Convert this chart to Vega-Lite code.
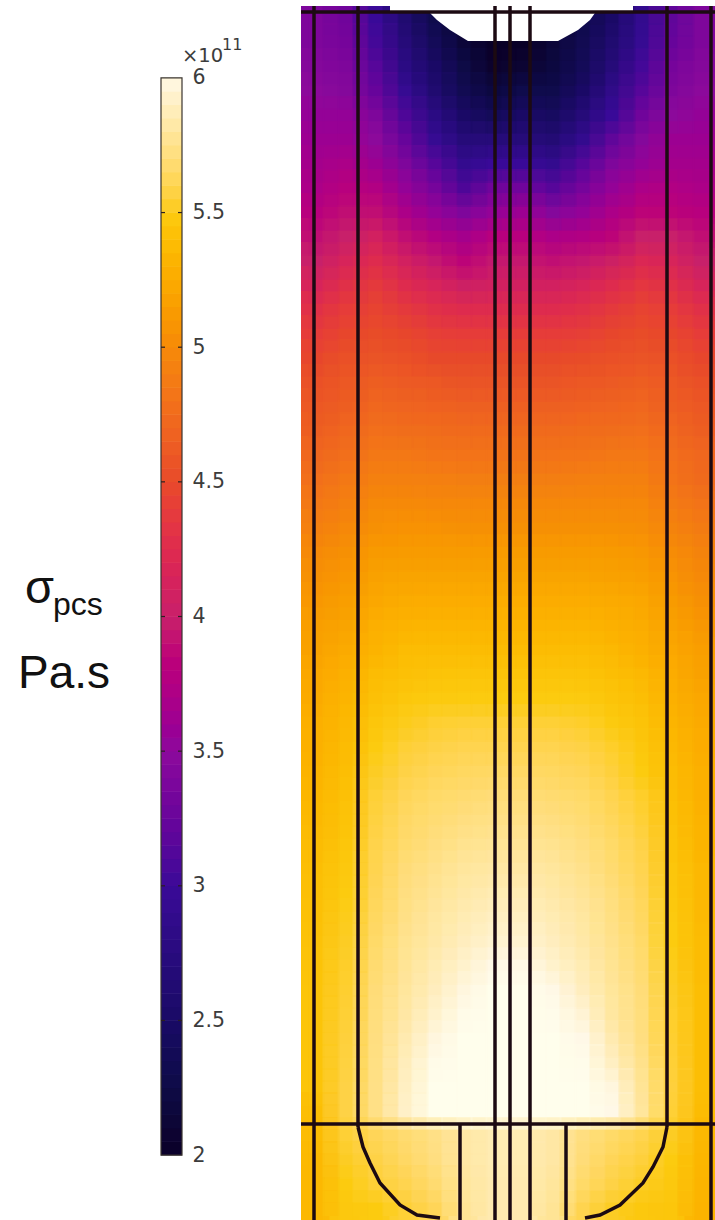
{"$schema":"https://vega.github.io/schema/vega-lite/v6.json","background":"white","padding":{"left":0,"top":6,"right":0,"bottom":0},"bounds":"flush","spacing":119,"datasets":{"cells":[
{"x":316,"y":18,"v":3.4},{"x":345,"y":18,"v":3.3},{"x":375,"y":18,"v":3.0},{"x":405,"y":18,"v":2.6},{"x":434,"y":18,"v":2.3},{"x":464,"y":18,"v":2.1},{"x":493,"y":18,"v":2.0},{"x":523,"y":18,"v":2.0},{"x":553,"y":18,"v":2.1},{"x":582,"y":18,"v":2.3},{"x":612,"y":18,"v":2.5},{"x":641,"y":18,"v":2.9},{"x":671,"y":18,"v":3.2},{"x":700,"y":18,"v":3.4},
{"x":316,"y":42,"v":3.4},{"x":345,"y":42,"v":3.35},{"x":375,"y":42,"v":3.05},{"x":405,"y":42,"v":2.7},{"x":434,"y":42,"v":2.4},{"x":464,"y":42,"v":2.15},{"x":493,"y":42,"v":2.0},{"x":523,"y":42,"v":2.0},{"x":553,"y":42,"v":2.15},{"x":582,"y":42,"v":2.35},{"x":612,"y":42,"v":2.6},{"x":641,"y":42,"v":2.95},{"x":671,"y":42,"v":3.25},{"x":700,"y":42,"v":3.4},
{"x":316,"y":67,"v":3.45},{"x":345,"y":67,"v":3.4},{"x":375,"y":67,"v":3.15},{"x":405,"y":67,"v":2.8},{"x":434,"y":67,"v":2.5},{"x":464,"y":67,"v":2.25},{"x":493,"y":67,"v":2.05},{"x":523,"y":67,"v":2.1},{"x":553,"y":67,"v":2.2},{"x":582,"y":67,"v":2.4},{"x":612,"y":67,"v":2.7},{"x":641,"y":67,"v":3.05},{"x":671,"y":67,"v":3.35},{"x":700,"y":67,"v":3.45},
{"x":316,"y":91,"v":3.5},{"x":345,"y":91,"v":3.45},{"x":375,"y":91,"v":3.25},{"x":405,"y":91,"v":2.95},{"x":434,"y":91,"v":2.6},{"x":464,"y":91,"v":2.35},{"x":493,"y":91,"v":2.2},{"x":523,"y":91,"v":2.3},{"x":553,"y":91,"v":2.3},{"x":582,"y":91,"v":2.5},{"x":612,"y":91,"v":2.85},{"x":641,"y":91,"v":3.15},{"x":671,"y":91,"v":3.4},{"x":700,"y":91,"v":3.5},
{"x":316,"y":115,"v":3.55},{"x":345,"y":115,"v":3.55},{"x":375,"y":115,"v":3.4},{"x":405,"y":115,"v":3.1},{"x":434,"y":115,"v":2.8},{"x":464,"y":115,"v":2.5},{"x":493,"y":115,"v":2.4},{"x":523,"y":115,"v":2.5},{"x":553,"y":115,"v":2.45},{"x":582,"y":115,"v":2.7},{"x":612,"y":115,"v":3.0},{"x":641,"y":115,"v":3.3},{"x":671,"y":115,"v":3.5},{"x":700,"y":115,"v":3.55},
{"x":316,"y":140,"v":3.6},{"x":345,"y":140,"v":3.6},{"x":375,"y":140,"v":3.5},{"x":405,"y":140,"v":3.25},{"x":434,"y":140,"v":2.95},{"x":464,"y":140,"v":2.7},{"x":493,"y":140,"v":2.7},{"x":523,"y":140,"v":2.7},{"x":553,"y":140,"v":2.65},{"x":582,"y":140,"v":2.9},{"x":612,"y":140,"v":3.2},{"x":641,"y":140,"v":3.45},{"x":671,"y":140,"v":3.6},{"x":700,"y":140,"v":3.6},
{"x":316,"y":164,"v":3.65},{"x":345,"y":164,"v":3.7},{"x":375,"y":164,"v":3.6},{"x":405,"y":164,"v":3.4},{"x":434,"y":164,"v":3.15},{"x":464,"y":164,"v":2.9},{"x":493,"y":164,"v":3.0},{"x":523,"y":164,"v":3.0},{"x":553,"y":164,"v":2.9},{"x":582,"y":164,"v":3.15},{"x":612,"y":164,"v":3.4},{"x":641,"y":164,"v":3.55},{"x":671,"y":164,"v":3.65},{"x":700,"y":164,"v":3.65},
{"x":316,"y":188,"v":3.7},{"x":345,"y":188,"v":3.8},{"x":375,"y":188,"v":3.75},{"x":405,"y":188,"v":3.55},{"x":434,"y":188,"v":3.35},{"x":464,"y":188,"v":3.1},{"x":493,"y":188,"v":3.3},{"x":523,"y":188,"v":3.3},{"x":553,"y":188,"v":3.15},{"x":582,"y":188,"v":3.35},{"x":612,"y":188,"v":3.55},{"x":641,"y":188,"v":3.7},{"x":671,"y":188,"v":3.75},{"x":700,"y":188,"v":3.7},
{"x":316,"y":212,"v":3.8},{"x":345,"y":212,"v":3.9},{"x":375,"y":212,"v":3.9},{"x":405,"y":212,"v":3.7},{"x":434,"y":212,"v":3.55},{"x":464,"y":212,"v":3.4},{"x":493,"y":212,"v":3.55},{"x":523,"y":212,"v":3.6},{"x":553,"y":212,"v":3.45},{"x":582,"y":212,"v":3.55},{"x":612,"y":212,"v":3.7},{"x":641,"y":212,"v":3.85},{"x":671,"y":212,"v":3.85},{"x":700,"y":212,"v":3.8},
{"x":316,"y":237,"v":3.9},{"x":345,"y":237,"v":4.0},{"x":375,"y":237,"v":4.1},{"x":405,"y":237,"v":3.9},{"x":434,"y":237,"v":3.75},{"x":464,"y":237,"v":3.65},{"x":493,"y":237,"v":3.8},{"x":523,"y":237,"v":3.8},{"x":553,"y":237,"v":3.7},{"x":582,"y":237,"v":3.75},{"x":612,"y":237,"v":3.85},{"x":641,"y":237,"v":4.0},{"x":671,"y":237,"v":4.0},{"x":700,"y":237,"v":3.9},
{"x":316,"y":261,"v":4.0},{"x":345,"y":261,"v":4.15},{"x":375,"y":261,"v":4.25},{"x":405,"y":261,"v":4.1},{"x":434,"y":261,"v":3.95},{"x":464,"y":261,"v":3.85},{"x":493,"y":261,"v":3.95},{"x":523,"y":261,"v":3.95},{"x":553,"y":261,"v":3.9},{"x":582,"y":261,"v":3.95},{"x":612,"y":261,"v":4.05},{"x":641,"y":261,"v":4.2},{"x":671,"y":261,"v":4.15},{"x":700,"y":261,"v":4.0},
{"x":316,"y":285,"v":4.15},{"x":345,"y":285,"v":4.3},{"x":375,"y":285,"v":4.38},{"x":405,"y":285,"v":4.25},{"x":434,"y":285,"v":4.15},{"x":464,"y":285,"v":4.05},{"x":493,"y":285,"v":4.1},{"x":523,"y":285,"v":4.1},{"x":553,"y":285,"v":4.1},{"x":582,"y":285,"v":4.15},{"x":612,"y":285,"v":4.25},{"x":641,"y":285,"v":4.35},{"x":671,"y":285,"v":4.3},{"x":700,"y":285,"v":4.15},
{"x":316,"y":310,"v":4.3},{"x":345,"y":310,"v":4.4},{"x":375,"y":310,"v":4.45},{"x":405,"y":310,"v":4.38},{"x":434,"y":310,"v":4.3},{"x":464,"y":310,"v":4.25},{"x":493,"y":310,"v":4.25},{"x":523,"y":310,"v":4.25},{"x":553,"y":310,"v":4.25},{"x":582,"y":310,"v":4.3},{"x":612,"y":310,"v":4.38},{"x":641,"y":310,"v":4.45},{"x":671,"y":310,"v":4.4},{"x":700,"y":310,"v":4.3},
{"x":316,"y":334,"v":4.4},{"x":345,"y":334,"v":4.48},{"x":375,"y":334,"v":4.52},{"x":405,"y":334,"v":4.48},{"x":434,"y":334,"v":4.42},{"x":464,"y":334,"v":4.4},{"x":493,"y":334,"v":4.4},{"x":523,"y":334,"v":4.4},{"x":553,"y":334,"v":4.4},{"x":582,"y":334,"v":4.42},{"x":612,"y":334,"v":4.48},{"x":641,"y":334,"v":4.52},{"x":671,"y":334,"v":4.48},{"x":700,"y":334,"v":4.4},
{"x":316,"y":358,"v":4.48},{"x":345,"y":358,"v":4.55},{"x":375,"y":358,"v":4.58},{"x":405,"y":358,"v":4.55},{"x":434,"y":358,"v":4.5},{"x":464,"y":358,"v":4.5},{"x":493,"y":358,"v":4.5},{"x":523,"y":358,"v":4.5},{"x":553,"y":358,"v":4.5},{"x":582,"y":358,"v":4.52},{"x":612,"y":358,"v":4.55},{"x":641,"y":358,"v":4.58},{"x":671,"y":358,"v":4.55},{"x":700,"y":358,"v":4.48},
{"x":316,"y":383,"v":4.55},{"x":345,"y":383,"v":4.6},{"x":375,"y":383,"v":4.65},{"x":405,"y":383,"v":4.62},{"x":434,"y":383,"v":4.6},{"x":464,"y":383,"v":4.58},{"x":493,"y":383,"v":4.58},{"x":523,"y":383,"v":4.58},{"x":553,"y":383,"v":4.58},{"x":582,"y":383,"v":4.6},{"x":612,"y":383,"v":4.62},{"x":641,"y":383,"v":4.65},{"x":671,"y":383,"v":4.6},{"x":700,"y":383,"v":4.55},
{"x":316,"y":407,"v":4.6},{"x":345,"y":407,"v":4.65},{"x":375,"y":407,"v":4.72},{"x":405,"y":407,"v":4.7},{"x":434,"y":407,"v":4.68},{"x":464,"y":407,"v":4.66},{"x":493,"y":407,"v":4.66},{"x":523,"y":407,"v":4.66},{"x":553,"y":407,"v":4.66},{"x":582,"y":407,"v":4.68},{"x":612,"y":407,"v":4.7},{"x":641,"y":407,"v":4.72},{"x":671,"y":407,"v":4.65},{"x":700,"y":407,"v":4.6},
{"x":316,"y":431,"v":4.65},{"x":345,"y":431,"v":4.72},{"x":375,"y":431,"v":4.78},{"x":405,"y":431,"v":4.77},{"x":434,"y":431,"v":4.76},{"x":464,"y":431,"v":4.74},{"x":493,"y":431,"v":4.74},{"x":523,"y":431,"v":4.74},{"x":553,"y":431,"v":4.74},{"x":582,"y":431,"v":4.76},{"x":612,"y":431,"v":4.77},{"x":641,"y":431,"v":4.78},{"x":671,"y":431,"v":4.72},{"x":700,"y":431,"v":4.65},
{"x":316,"y":455,"v":4.72},{"x":345,"y":455,"v":4.78},{"x":375,"y":455,"v":4.85},{"x":405,"y":455,"v":4.85},{"x":434,"y":455,"v":4.83},{"x":464,"y":455,"v":4.82},{"x":493,"y":455,"v":4.82},{"x":523,"y":455,"v":4.82},{"x":553,"y":455,"v":4.82},{"x":582,"y":455,"v":4.83},{"x":612,"y":455,"v":4.85},{"x":641,"y":455,"v":4.85},{"x":671,"y":455,"v":4.78},{"x":700,"y":455,"v":4.72},
{"x":316,"y":480,"v":4.78},{"x":345,"y":480,"v":4.85},{"x":375,"y":480,"v":4.93},{"x":405,"y":480,"v":4.93},{"x":434,"y":480,"v":4.91},{"x":464,"y":480,"v":4.9},{"x":493,"y":480,"v":4.9},{"x":523,"y":480,"v":4.9},{"x":553,"y":480,"v":4.9},{"x":582,"y":480,"v":4.91},{"x":612,"y":480,"v":4.92},{"x":641,"y":480,"v":4.92},{"x":671,"y":480,"v":4.82},{"x":700,"y":480,"v":4.75},
{"x":316,"y":504,"v":4.85},{"x":345,"y":504,"v":4.92},{"x":375,"y":504,"v":5.0},{"x":405,"y":504,"v":5.0},{"x":434,"y":504,"v":4.98},{"x":464,"y":504,"v":4.98},{"x":493,"y":504,"v":4.98},{"x":523,"y":504,"v":4.98},{"x":553,"y":504,"v":4.98},{"x":582,"y":504,"v":4.98},{"x":612,"y":504,"v":4.98},{"x":641,"y":504,"v":4.98},{"x":671,"y":504,"v":4.88},{"x":700,"y":504,"v":4.82},
{"x":316,"y":528,"v":4.92},{"x":345,"y":528,"v":4.98},{"x":375,"y":528,"v":5.05},{"x":405,"y":528,"v":5.06},{"x":434,"y":528,"v":5.06},{"x":464,"y":528,"v":5.05},{"x":493,"y":528,"v":5.05},{"x":523,"y":528,"v":5.05},{"x":553,"y":528,"v":5.05},{"x":582,"y":528,"v":5.05},{"x":612,"y":528,"v":5.05},{"x":641,"y":528,"v":5.03},{"x":671,"y":528,"v":4.95},{"x":700,"y":528,"v":4.88},
{"x":316,"y":553,"v":5.0},{"x":345,"y":553,"v":5.05},{"x":375,"y":553,"v":5.12},{"x":405,"y":553,"v":5.13},{"x":434,"y":553,"v":5.13},{"x":464,"y":553,"v":5.13},{"x":493,"y":553,"v":5.13},{"x":523,"y":553,"v":5.13},{"x":553,"y":553,"v":5.13},{"x":582,"y":553,"v":5.13},{"x":612,"y":553,"v":5.12},{"x":641,"y":553,"v":5.1},{"x":671,"y":553,"v":5.02},{"x":700,"y":553,"v":4.95},
{"x":316,"y":577,"v":5.05},{"x":345,"y":577,"v":5.1},{"x":375,"y":577,"v":5.18},{"x":405,"y":577,"v":5.2},{"x":434,"y":577,"v":5.2},{"x":464,"y":577,"v":5.2},{"x":493,"y":577,"v":5.2},{"x":523,"y":577,"v":5.2},{"x":553,"y":577,"v":5.2},{"x":582,"y":577,"v":5.2},{"x":612,"y":577,"v":5.18},{"x":641,"y":577,"v":5.16},{"x":671,"y":577,"v":5.08},{"x":700,"y":577,"v":5.0},
{"x":316,"y":601,"v":5.1},{"x":345,"y":601,"v":5.15},{"x":375,"y":601,"v":5.23},{"x":405,"y":601,"v":5.26},{"x":434,"y":601,"v":5.27},{"x":464,"y":601,"v":5.27},{"x":493,"y":601,"v":5.27},{"x":523,"y":601,"v":5.27},{"x":553,"y":601,"v":5.27},{"x":582,"y":601,"v":5.27},{"x":612,"y":601,"v":5.25},{"x":641,"y":601,"v":5.22},{"x":671,"y":601,"v":5.13},{"x":700,"y":601,"v":5.05},
{"x":316,"y":626,"v":5.15},{"x":345,"y":626,"v":5.2},{"x":375,"y":626,"v":5.28},{"x":405,"y":626,"v":5.32},{"x":434,"y":626,"v":5.33},{"x":464,"y":626,"v":5.33},{"x":493,"y":626,"v":5.33},{"x":523,"y":626,"v":5.33},{"x":553,"y":626,"v":5.33},{"x":582,"y":626,"v":5.33},{"x":612,"y":626,"v":5.3},{"x":641,"y":626,"v":5.26},{"x":671,"y":626,"v":5.18},{"x":700,"y":626,"v":5.1},
{"x":316,"y":650,"v":5.18},{"x":345,"y":650,"v":5.25},{"x":375,"y":650,"v":5.32},{"x":405,"y":650,"v":5.38},{"x":434,"y":650,"v":5.39},{"x":464,"y":650,"v":5.39},{"x":493,"y":650,"v":5.39},{"x":523,"y":650,"v":5.39},{"x":553,"y":650,"v":5.39},{"x":582,"y":650,"v":5.39},{"x":612,"y":650,"v":5.35},{"x":641,"y":650,"v":5.3},{"x":671,"y":650,"v":5.22},{"x":700,"y":650,"v":5.15},
{"x":316,"y":674,"v":5.22},{"x":345,"y":674,"v":5.3},{"x":375,"y":674,"v":5.38},{"x":405,"y":674,"v":5.42},{"x":434,"y":674,"v":5.44},{"x":464,"y":674,"v":5.45},{"x":493,"y":674,"v":5.45},{"x":523,"y":674,"v":5.45},{"x":553,"y":674,"v":5.45},{"x":582,"y":674,"v":5.44},{"x":612,"y":674,"v":5.4},{"x":641,"y":674,"v":5.35},{"x":671,"y":674,"v":5.27},{"x":700,"y":674,"v":5.18},
{"x":316,"y":698,"v":5.25},{"x":345,"y":698,"v":5.33},{"x":375,"y":698,"v":5.42},{"x":405,"y":698,"v":5.47},{"x":434,"y":698,"v":5.49},{"x":464,"y":698,"v":5.5},{"x":493,"y":698,"v":5.5},{"x":523,"y":698,"v":5.5},{"x":553,"y":698,"v":5.5},{"x":582,"y":698,"v":5.49},{"x":612,"y":698,"v":5.45},{"x":641,"y":698,"v":5.4},{"x":671,"y":698,"v":5.3},{"x":700,"y":698,"v":5.22},
{"x":316,"y":723,"v":5.28},{"x":345,"y":723,"v":5.36},{"x":375,"y":723,"v":5.46},{"x":405,"y":723,"v":5.51},{"x":434,"y":723,"v":5.54},{"x":464,"y":723,"v":5.55},{"x":493,"y":723,"v":5.55},{"x":523,"y":723,"v":5.55},{"x":553,"y":723,"v":5.55},{"x":582,"y":723,"v":5.53},{"x":612,"y":723,"v":5.49},{"x":641,"y":723,"v":5.44},{"x":671,"y":723,"v":5.33},{"x":700,"y":723,"v":5.25},
{"x":316,"y":747,"v":5.3},{"x":345,"y":747,"v":5.38},{"x":375,"y":747,"v":5.5},{"x":405,"y":747,"v":5.55},{"x":434,"y":747,"v":5.58},{"x":464,"y":747,"v":5.6},{"x":493,"y":747,"v":5.6},{"x":523,"y":747,"v":5.6},{"x":553,"y":747,"v":5.6},{"x":582,"y":747,"v":5.58},{"x":612,"y":747,"v":5.53},{"x":641,"y":747,"v":5.47},{"x":671,"y":747,"v":5.36},{"x":700,"y":747,"v":5.27},
{"x":316,"y":771,"v":5.32},{"x":345,"y":771,"v":5.4},{"x":375,"y":771,"v":5.52},{"x":405,"y":771,"v":5.58},{"x":434,"y":771,"v":5.62},{"x":464,"y":771,"v":5.64},{"x":493,"y":771,"v":5.65},{"x":523,"y":771,"v":5.65},{"x":553,"y":771,"v":5.64},{"x":582,"y":771,"v":5.62},{"x":612,"y":771,"v":5.56},{"x":641,"y":771,"v":5.5},{"x":671,"y":771,"v":5.38},{"x":700,"y":771,"v":5.29},
{"x":316,"y":796,"v":5.34},{"x":345,"y":796,"v":5.42},{"x":375,"y":796,"v":5.55},{"x":405,"y":796,"v":5.62},{"x":434,"y":796,"v":5.66},{"x":464,"y":796,"v":5.68},{"x":493,"y":796,"v":5.7},{"x":523,"y":796,"v":5.7},{"x":553,"y":796,"v":5.68},{"x":582,"y":796,"v":5.66},{"x":612,"y":796,"v":5.6},{"x":641,"y":796,"v":5.53},{"x":671,"y":796,"v":5.4},{"x":700,"y":796,"v":5.3},
{"x":316,"y":820,"v":5.36},{"x":345,"y":820,"v":5.44},{"x":375,"y":820,"v":5.57},{"x":405,"y":820,"v":5.65},{"x":434,"y":820,"v":5.69},{"x":464,"y":820,"v":5.72},{"x":493,"y":820,"v":5.74},{"x":523,"y":820,"v":5.74},{"x":553,"y":820,"v":5.72},{"x":582,"y":820,"v":5.69},{"x":612,"y":820,"v":5.63},{"x":641,"y":820,"v":5.55},{"x":671,"y":820,"v":5.42},{"x":700,"y":820,"v":5.32},
{"x":316,"y":844,"v":5.38},{"x":345,"y":844,"v":5.46},{"x":375,"y":844,"v":5.59},{"x":405,"y":844,"v":5.67},{"x":434,"y":844,"v":5.72},{"x":464,"y":844,"v":5.76},{"x":493,"y":844,"v":5.78},{"x":523,"y":844,"v":5.78},{"x":553,"y":844,"v":5.76},{"x":582,"y":844,"v":5.72},{"x":612,"y":844,"v":5.66},{"x":641,"y":844,"v":5.58},{"x":671,"y":844,"v":5.44},{"x":700,"y":844,"v":5.33},
{"x":316,"y":869,"v":5.4},{"x":345,"y":869,"v":5.48},{"x":375,"y":869,"v":5.6},{"x":405,"y":869,"v":5.7},{"x":434,"y":869,"v":5.75},{"x":464,"y":869,"v":5.8},{"x":493,"y":869,"v":5.82},{"x":523,"y":869,"v":5.82},{"x":553,"y":869,"v":5.8},{"x":582,"y":869,"v":5.75},{"x":612,"y":869,"v":5.68},{"x":641,"y":869,"v":5.6},{"x":671,"y":869,"v":5.46},{"x":700,"y":869,"v":5.35},
{"x":316,"y":893,"v":5.41},{"x":345,"y":893,"v":5.5},{"x":375,"y":893,"v":5.62},{"x":405,"y":893,"v":5.72},{"x":434,"y":893,"v":5.78},{"x":464,"y":893,"v":5.83},{"x":493,"y":893,"v":5.86},{"x":523,"y":893,"v":5.86},{"x":553,"y":893,"v":5.83},{"x":582,"y":893,"v":5.78},{"x":612,"y":893,"v":5.71},{"x":641,"y":893,"v":5.62},{"x":671,"y":893,"v":5.47},{"x":700,"y":893,"v":5.36},
{"x":316,"y":917,"v":5.42},{"x":345,"y":917,"v":5.51},{"x":375,"y":917,"v":5.64},{"x":405,"y":917,"v":5.74},{"x":434,"y":917,"v":5.81},{"x":464,"y":917,"v":5.86},{"x":493,"y":917,"v":5.9},{"x":523,"y":917,"v":5.9},{"x":553,"y":917,"v":5.86},{"x":582,"y":917,"v":5.81},{"x":612,"y":917,"v":5.73},{"x":641,"y":917,"v":5.64},{"x":671,"y":917,"v":5.49},{"x":700,"y":917,"v":5.37},
{"x":316,"y":941,"v":5.43},{"x":345,"y":941,"v":5.52},{"x":375,"y":941,"v":5.66},{"x":405,"y":941,"v":5.76},{"x":434,"y":941,"v":5.83},{"x":464,"y":941,"v":5.89},{"x":493,"y":941,"v":5.94},{"x":523,"y":941,"v":5.94},{"x":553,"y":941,"v":5.89},{"x":582,"y":941,"v":5.83},{"x":612,"y":941,"v":5.75},{"x":641,"y":941,"v":5.66},{"x":671,"y":941,"v":5.5},{"x":700,"y":941,"v":5.38},
{"x":316,"y":966,"v":5.44},{"x":345,"y":966,"v":5.53},{"x":375,"y":966,"v":5.68},{"x":405,"y":966,"v":5.78},{"x":434,"y":966,"v":5.86},{"x":464,"y":966,"v":5.93},{"x":493,"y":966,"v":6.0},{"x":523,"y":966,"v":6.0},{"x":553,"y":966,"v":5.93},{"x":582,"y":966,"v":5.86},{"x":612,"y":966,"v":5.77},{"x":641,"y":966,"v":5.68},{"x":671,"y":966,"v":5.51},{"x":700,"y":966,"v":5.39},
{"x":316,"y":990,"v":5.45},{"x":345,"y":990,"v":5.54},{"x":375,"y":990,"v":5.7},{"x":405,"y":990,"v":5.8},{"x":434,"y":990,"v":5.89},{"x":464,"y":990,"v":5.98},{"x":493,"y":990,"v":6.1},{"x":523,"y":990,"v":6.1},{"x":553,"y":990,"v":6.0},{"x":582,"y":990,"v":5.89},{"x":612,"y":990,"v":5.79},{"x":641,"y":990,"v":5.7},{"x":671,"y":990,"v":5.52},{"x":700,"y":990,"v":5.4},
{"x":316,"y":1014,"v":5.45},{"x":345,"y":1014,"v":5.55},{"x":375,"y":1014,"v":5.71},{"x":405,"y":1014,"v":5.82},{"x":434,"y":1014,"v":5.93},{"x":464,"y":1014,"v":6.05},{"x":493,"y":1014,"v":6.1},{"x":523,"y":1014,"v":6.1},{"x":553,"y":1014,"v":6.08},{"x":582,"y":1014,"v":5.95},{"x":612,"y":1014,"v":5.81},{"x":641,"y":1014,"v":5.71},{"x":671,"y":1014,"v":5.53},{"x":700,"y":1014,"v":5.4},
{"x":316,"y":1039,"v":5.45},{"x":345,"y":1039,"v":5.56},{"x":375,"y":1039,"v":5.72},{"x":405,"y":1039,"v":5.85},{"x":434,"y":1039,"v":5.98},{"x":464,"y":1039,"v":6.1},{"x":493,"y":1039,"v":6.1},{"x":523,"y":1039,"v":6.1},{"x":553,"y":1039,"v":6.1},{"x":582,"y":1039,"v":6.02},{"x":612,"y":1039,"v":5.85},{"x":641,"y":1039,"v":5.72},{"x":671,"y":1039,"v":5.54},{"x":700,"y":1039,"v":5.4},
{"x":316,"y":1063,"v":5.45},{"x":345,"y":1063,"v":5.57},{"x":375,"y":1063,"v":5.73},{"x":405,"y":1063,"v":5.88},{"x":434,"y":1063,"v":6.05},{"x":464,"y":1063,"v":6.1},{"x":493,"y":1063,"v":6.1},{"x":523,"y":1063,"v":6.1},{"x":553,"y":1063,"v":6.1},{"x":582,"y":1063,"v":6.08},{"x":612,"y":1063,"v":5.9},{"x":641,"y":1063,"v":5.75},{"x":671,"y":1063,"v":5.55},{"x":700,"y":1063,"v":5.4},
{"x":316,"y":1087,"v":5.45},{"x":345,"y":1087,"v":5.58},{"x":375,"y":1087,"v":5.74},{"x":405,"y":1087,"v":5.9},{"x":434,"y":1087,"v":6.1},{"x":464,"y":1087,"v":6.1},{"x":493,"y":1087,"v":6.1},{"x":523,"y":1087,"v":6.1},{"x":553,"y":1087,"v":6.1},{"x":582,"y":1087,"v":6.1},{"x":612,"y":1087,"v":5.98},{"x":641,"y":1087,"v":5.78},{"x":671,"y":1087,"v":5.56},{"x":700,"y":1087,"v":5.4},
{"x":316,"y":1111,"v":5.4},{"x":345,"y":1111,"v":5.58},{"x":375,"y":1111,"v":5.74},{"x":405,"y":1111,"v":5.92},{"x":434,"y":1111,"v":6.1},{"x":464,"y":1111,"v":6.1},{"x":493,"y":1111,"v":6.1},{"x":523,"y":1111,"v":6.1},{"x":553,"y":1111,"v":6.1},{"x":582,"y":1111,"v":6.1},{"x":612,"y":1111,"v":6.02},{"x":641,"y":1111,"v":5.8},{"x":671,"y":1111,"v":5.55},{"x":700,"y":1111,"v":5.38},
{"x":316,"y":1136,"v":5.38},{"x":345,"y":1136,"v":5.55},{"x":375,"y":1136,"v":5.62},{"x":405,"y":1136,"v":5.68},{"x":434,"y":1136,"v":5.74},{"x":464,"y":1136,"v":5.82},{"x":493,"y":1136,"v":5.86},{"x":523,"y":1136,"v":5.86},{"x":553,"y":1136,"v":5.82},{"x":582,"y":1136,"v":5.72},{"x":612,"y":1136,"v":5.66},{"x":641,"y":1136,"v":5.6},{"x":671,"y":1136,"v":5.52},{"x":700,"y":1136,"v":5.35},
{"x":316,"y":1160,"v":5.36},{"x":345,"y":1160,"v":5.52},{"x":375,"y":1160,"v":5.58},{"x":405,"y":1160,"v":5.65},{"x":434,"y":1160,"v":5.72},{"x":464,"y":1160,"v":5.82},{"x":493,"y":1160,"v":5.86},{"x":523,"y":1160,"v":5.86},{"x":553,"y":1160,"v":5.82},{"x":582,"y":1160,"v":5.7},{"x":612,"y":1160,"v":5.62},{"x":641,"y":1160,"v":5.56},{"x":671,"y":1160,"v":5.5},{"x":700,"y":1160,"v":5.34},
{"x":316,"y":1184,"v":5.35},{"x":345,"y":1184,"v":5.5},{"x":375,"y":1184,"v":5.55},{"x":405,"y":1184,"v":5.6},{"x":434,"y":1184,"v":5.68},{"x":464,"y":1184,"v":5.8},{"x":493,"y":1184,"v":5.85},{"x":523,"y":1184,"v":5.85},{"x":553,"y":1184,"v":5.8},{"x":582,"y":1184,"v":5.66},{"x":612,"y":1184,"v":5.58},{"x":641,"y":1184,"v":5.52},{"x":671,"y":1184,"v":5.48},{"x":700,"y":1184,"v":5.33},
{"x":316,"y":1209,"v":5.35},{"x":345,"y":1209,"v":5.48},{"x":375,"y":1209,"v":5.5},{"x":405,"y":1209,"v":5.55},{"x":434,"y":1209,"v":5.62},{"x":464,"y":1209,"v":5.78},{"x":493,"y":1209,"v":5.85},{"x":523,"y":1209,"v":5.85},{"x":553,"y":1209,"v":5.78},{"x":582,"y":1209,"v":5.6},{"x":612,"y":1209,"v":5.52},{"x":641,"y":1209,"v":5.48},{"x":671,"y":1209,"v":5.46},{"x":700,"y":1209,"v":5.32}
],
"cap":[{"x":390,"y":6},{"x":390,"y":11},{"x":430,"y":13},{"x":437,"y":20},{"x":450,"y":30},{"x":468,"y":41},{"x":558,"y":41},{"x":578,"y":30},{"x":590,"y":20},{"x":595,"y":13},{"x":633,"y":11},{"x":633,"y":6}],
"lines":[
{"id":"a","x":314,"y":6},{"id":"a","x":314,"y":1220},
{"id":"b","x":358,"y":6},{"id":"b","x":358,"y":1127},
{"id":"c","x":495,"y":6},{"id":"c","x":495,"y":1220},
{"id":"d","x":510,"y":6},{"id":"d","x":510,"y":1220},
{"id":"e","x":530,"y":6},{"id":"e","x":530,"y":1220},
{"id":"f","x":667,"y":6},{"id":"f","x":667,"y":1127},
{"id":"g","x":711,"y":6},{"id":"g","x":711,"y":1220},
{"id":"h","x":301,"y":12},{"id":"h","x":715,"y":12},
{"id":"i","x":301,"y":1124},{"id":"i","x":715,"y":1124},
{"id":"j","x":460,"y":1124},{"id":"j","x":460,"y":1220},
{"id":"k","x":566,"y":1124},{"id":"k","x":566,"y":1220},
{"id":"l","x":358,"y":1127},{"id":"l","x":363,"y":1147},{"id":"l","x":370,"y":1163},{"id":"l","x":380,"y":1183},{"id":"l","x":400,"y":1205},{"id":"l","x":417,"y":1215},{"id":"l","x":440,"y":1218},
{"id":"m","x":667,"y":1127},{"id":"m","x":663,"y":1147},{"id":"m","x":653,"y":1167},{"id":"m","x":643,"y":1183},{"id":"m","x":620,"y":1205},{"id":"m","x":600,"y":1215},{"id":"m","x":585,"y":1218}
],
"bar":[{"v":2.025},{"v":2.075},{"v":2.125},{"v":2.175},{"v":2.225},{"v":2.275},{"v":2.325},{"v":2.375},{"v":2.425},{"v":2.475},{"v":2.525},{"v":2.575},{"v":2.625},{"v":2.675},{"v":2.725},{"v":2.775},{"v":2.825},{"v":2.875},{"v":2.925},{"v":2.975},{"v":3.025},{"v":3.075},{"v":3.125},{"v":3.175},{"v":3.225},{"v":3.275},{"v":3.325},{"v":3.375},{"v":3.425},{"v":3.475},{"v":3.525},{"v":3.575},{"v":3.625},{"v":3.675},{"v":3.725},{"v":3.775},{"v":3.825},{"v":3.875},{"v":3.925},{"v":3.975},{"v":4.025},{"v":4.075},{"v":4.125},{"v":4.175},{"v":4.225},{"v":4.275},{"v":4.325},{"v":4.375},{"v":4.425},{"v":4.475},{"v":4.525},{"v":4.575},{"v":4.625},{"v":4.675},{"v":4.725},{"v":4.775},{"v":4.825},{"v":4.875},{"v":4.925},{"v":4.975},{"v":5.025},{"v":5.075},{"v":5.125},{"v":5.175},{"v":5.225},{"v":5.275},{"v":5.325},{"v":5.375},{"v":5.425},{"v":5.475},{"v":5.525},{"v":5.575},{"v":5.625},{"v":5.675},{"v":5.725},{"v":5.775},{"v":5.825},{"v":5.875},{"v":5.925},{"v":5.975}],
"ticks":[{"x":161,"x2":165,"v":2.5},{"x":178,"x2":182,"v":2.5},{"x":161,"x2":165,"v":3},{"x":178,"x2":182,"v":3},{"x":161,"x2":165,"v":3.5},{"x":178,"x2":182,"v":3.5},{"x":161,"x2":165,"v":4},{"x":178,"x2":182,"v":4},{"x":161,"x2":165,"v":4.5},{"x":178,"x2":182,"v":4.5},{"x":161,"x2":165,"v":5},{"x":178,"x2":182,"v":5},{"x":161,"x2":165,"v":5.5},{"x":178,"x2":182,"v":5.5}]
},
"hconcat":[
{"width":182,"height":1214,"layer":[
{"data":{"name":"bar"},"mark":{"type":"rect","width":21,"height":14},"encoding":{
"x":{"datum":171.5,"type":"quantitative","scale":{"domain":[0,182],"nice":false,"zero":false},"axis":null},
"y":{"field":"v","type":"quantitative","scale":{"domain":[1.759,6.267],"nice":false,"zero":false},"axis":{"orient":"right","values":[2,2.5,3,3.5,4,4.5,5,5.5,6],"format":"~g","title":null,"domain":false,"ticks":false,"grid":false,"labelFont":"DejaVu Sans","labelFontSize":20.5,"labelColor":"#3c3c3c","labelPadding":10,"labelOverlap":false,"labelBound":false,"labelFlush":false}},
"color":{"field":"v","type":"quantitative","legend":null,"scale":{"domain":[2,2.5,3,3.5,4,4.5,5,5.5,6,6.1],"range":["#0a0028","#1a0a66","#3a0a98","#8c0a9c","#c8206a","#e84a2a","#f68a08","#fdcb10","#fff8e6","#ffffff"]}}}},
{"data":{"values":[{"x":161,"x2":182,"a":2,"b":6}]},"mark":{"type":"rect","fill":null,"stroke":"#3a3430","strokeWidth":1.2},"encoding":{"x":{"field":"x","type":"quantitative"},"x2":{"field":"x2"},"y":{"field":"a","type":"quantitative"},"y2":{"field":"b"}}},
{"data":{"name":"ticks"},"mark":{"type":"rule","color":"#2a2020","strokeWidth":1.2},"encoding":{"x":{"field":"x","type":"quantitative"},"x2":{"field":"x2"},"y":{"field":"v","type":"quantitative"}}},
{"data":{"values":[{"t":"σ","x":25,"v":4.05}]},"mark":{"type":"text","font":"Liberation Sans","fontSize":47,"align":"left","baseline":"alphabetic","color":"#111111"},"encoding":{"x":{"field":"x","type":"quantitative"},"y":{"field":"v","type":"quantitative"},"text":{"field":"t"}}},
{"data":{"values":[{"t":"pcs","x":53,"v":4.006}]},"mark":{"type":"text","font":"Liberation Sans","fontSize":32,"align":"left","baseline":"alphabetic","color":"#111111"},"encoding":{"x":{"field":"x","type":"quantitative"},"y":{"field":"v","type":"quantitative"},"text":{"field":"t"}}},
{"data":{"values":[{"t":"Pa.s","x":18,"v":3.734}]},"mark":{"type":"text","font":"Liberation Sans","fontSize":46,"align":"left","baseline":"alphabetic","color":"#111111"},"encoding":{"x":{"field":"x","type":"quantitative"},"y":{"field":"v","type":"quantitative"},"text":{"field":"t"}}},
{"data":{"values":[{"t":"×10","x":182,"v":6.059}]},"mark":{"type":"text","font":"DejaVu Sans","fontSize":19.5,"align":"left","baseline":"alphabetic","color":"#3c3c3c"},"encoding":{"x":{"field":"x","type":"quantitative"},"y":{"field":"v","type":"quantitative"},"text":{"field":"t"}}},
{"data":{"values":[{"t":"11","x":222,"v":6.104}]},"mark":{"type":"text","font":"DejaVu Sans","fontSize":16,"align":"left","baseline":"alphabetic","color":"#3c3c3c"},"encoding":{"x":{"field":"x","type":"quantitative"},"y":{"field":"v","type":"quantitative"},"text":{"field":"t"}}}
]},
{"width":414,"height":1214,"layer":[
{"data":{"name":"cells"},"mark":{"type":"rect","width":31,"height":26,"clip":true},"encoding":{
"x":{"field":"x","type":"quantitative","scale":{"domain":[301,715],"nice":false,"zero":false},"axis":null},
"y":{"field":"y","type":"quantitative","scale":{"domain":[6,1220],"reverse":true,"nice":false,"zero":false},"axis":null},
"color":{"field":"v","type":"quantitative","legend":null,"scale":{"domain":[2,2.5,3,3.5,4,4.5,5,5.5,6,6.1],"range":["#0a0028","#1a0a66","#3a0a98","#8c0a9c","#c8206a","#e84a2a","#f68a08","#fdcb10","#fff8e6","#ffffff"]}}}},
{"data":{"name":"cells"},"mark":{"type":"rect","width":31,"height":26,"clip":true,"xOffset":-7,"yOffset":-6},"encoding":{"x":{"field":"x","type":"quantitative"},"y":{"field":"y","type":"quantitative"},"color":{"field":"v","type":"quantitative","legend":null}}},
{"data":{"name":"cells"},"mark":{"type":"rect","width":31,"height":26,"clip":true,"xOffset":8,"yOffset":-6,"opacity":0.5},"encoding":{"x":{"field":"x","type":"quantitative"},"y":{"field":"y","type":"quantitative"},"color":{"field":"v","type":"quantitative","legend":null}}},
{"data":{"name":"cells"},"mark":{"type":"rect","width":31,"height":26,"clip":true,"xOffset":-7,"yOffset":6,"opacity":0.33},"encoding":{"x":{"field":"x","type":"quantitative"},"y":{"field":"y","type":"quantitative"},"color":{"field":"v","type":"quantitative","legend":null}}},
{"data":{"name":"cells"},"mark":{"type":"rect","width":31,"height":26,"clip":true,"xOffset":8,"yOffset":6,"opacity":0.25},"encoding":{"x":{"field":"x","type":"quantitative"},"y":{"field":"y","type":"quantitative"},"color":{"field":"v","type":"quantitative","legend":null}}},
{"data":{"name":"cap"},"mark":{"type":"area","color":"#ffffff","opacity":1,"clip":true},"encoding":{"x":{"field":"x","type":"quantitative"},"y":{"field":"y","type":"quantitative"},"y2":{"datum":6}}},
{"data":{"name":"lines"},"mark":{"type":"line","color":"#1c0a12","strokeWidth":3.5,"clip":true},"encoding":{"x":{"field":"x","type":"quantitative"},"y":{"field":"y","type":"quantitative","sort":null},"detail":{"field":"id"},"order":{"field":"y"}}}
]}
],
"config":{"view":{"stroke":null}}}
